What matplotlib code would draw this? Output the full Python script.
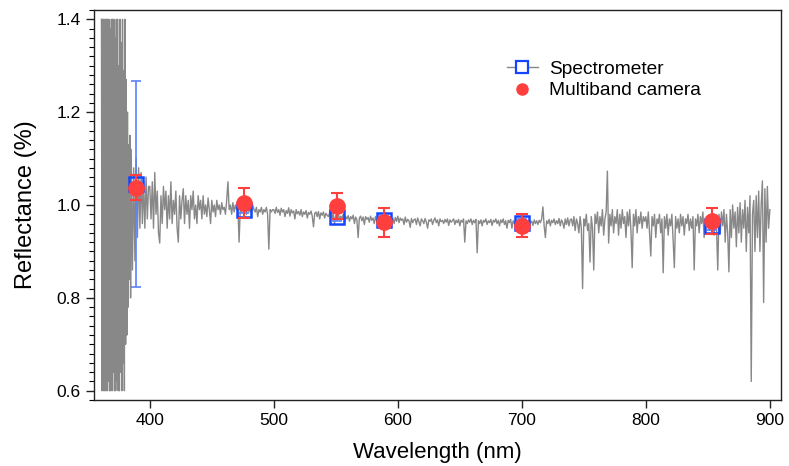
import numpy as np
import matplotlib
matplotlib.use("Agg")
import matplotlib.pyplot as plt
from matplotlib.lines import Line2D
from matplotlib.ticker import MultipleLocator, FormatStrFormatter

plt.rcParams['font.family'] = ['Liberation Sans', 'DejaVu Sans']

# ---- Spectrum ----
# UV edge, 0.5 nm step, 361 - 384.5 nm
wl_a = np.arange(361, 385, 0.5)
refl_a = [1.4, 0.6, 1.4, 0.6, 1.4, 0.6, 1.4, 0.6, 1.4, 0.6,
          1.4, 0.62, 1.4, 0.6, 1.38, 0.6, 1.4, 0.6, 1.4, 0.64,
          1.4, 0.6, 1.36, 0.6, 1.4, 0.62, 1.4, 0.6, 1.3, 0.6,
          1.4, 0.64, 1.35, 0.6, 1.4, 0.66, 1.29, 0.6, 1.4, 0.7,
          1.27, 0.72, 1.2, 0.78, 1.13, 0.84, 1.15, 0.8]

# 385 - 499 nm, 1 nm step
wl_b = np.arange(385, 500, 1)
refl_b = [1.12, 0.86, 1.08, 0.88, 1.1, 0.93, 1.08, 0.95, 1.07, 0.96,
          1.05, 0.95, 1.06, 0.97, 1.04,                                   # 385-399
          1.04, 0.97, 1.05, 0.95, 1.07, 0.98, 1.03, 0.94, 0.918, 1.02,    # 400-409
          0.96, 1.04, 0.99, 1.03, 0.95, 1.02, 0.97, 1.05, 0.96, 1.01,     # 410-419
          0.98, 1.03, 0.95, 0.92, 1.02, 0.97, 1.01, 1.035, 0.96, 1.02,    # 420-429
          0.98, 1.01, 0.95, 1.02, 0.99, 1.03, 0.97, 1.0, 0.96, 1.02,      # 430-439
          0.99, 1.01, 0.97, 1.02, 0.98, 1.0, 0.975, 1.015, 0.99, 0.96,    # 440-449
          1.01, 0.985, 1.0, 0.975, 1.01, 0.99, 1.0, 0.98, 1.005, 0.99,    # 450-459
          0.995, 0.98, 1.01, 1.05, 0.99, 1.0, 0.98, 1.005, 0.985, 1.0,    # 460-469
          0.99, 1.0, 0.92, 0.995, 0.985, 1.0, 0.99, 0.995, 0.98, 1.0,     # 470-479
          0.985, 0.995, 0.98, 1.0, 0.99, 0.985, 0.995, 0.975, 0.99, 0.985,  # 480-489
          0.995, 0.98, 0.99, 0.985, 0.995, 0.98, 0.905, 0.99, 0.985, 0.99]  # 490-499

# 500 - 739 nm, 1 nm step
wl_c = np.arange(500, 740, 1)
refl_c = [
    0.99, 0.982, 0.995, 0.984, 0.99, 0.978, 0.993, 0.985, 0.99, 0.975,     # 500
    0.988, 0.982, 0.994, 0.976, 0.99, 0.983, 0.987, 0.97, 0.99, 0.981,     # 510
    0.986, 0.978, 0.99, 0.975, 0.985, 0.98, 0.988, 0.972, 0.984, 0.98,     # 520
    0.987, 0.976, 0.953, 0.982, 0.985, 0.975, 0.986, 0.97, 0.983, 0.978,   # 530
    0.985, 0.972, 0.982, 0.978, 0.975, 0.983, 1.0, 0.968, 0.98, 0.96,      # 540
    0.978, 0.97, 0.982, 0.968, 0.976, 0.972, 0.98, 0.962, 0.975, 0.97,     # 550
    0.977, 0.965, 0.975, 0.97, 0.978, 0.96, 0.974, 0.968, 0.93, 0.972,     # 560
    0.976, 0.966, 0.974, 0.958, 0.975, 0.969, 0.973, 0.963, 0.976, 0.967,  # 570
    0.972, 0.96, 0.975, 0.966, 0.97, 0.955, 0.973, 0.968, 0.971, 0.962,    # 580
    0.974, 0.967, 0.97, 0.958, 0.975, 0.966, 0.972, 0.96, 0.973, 0.965,    # 590
    0.976, 0.962, 0.972, 0.967, 0.97, 0.958, 0.974, 0.963, 0.969, 0.966,   # 600
    0.952, 0.971, 0.962, 0.968, 0.97, 0.958, 0.972, 0.964, 0.955, 0.97,    # 610
    0.966, 0.96, 0.971, 0.963, 0.95, 0.968, 0.965, 0.97, 0.958, 0.967,     # 620
    0.972, 0.962, 0.968, 0.955, 0.97, 0.964, 0.967, 0.96, 0.969, 0.963,    # 630
    0.97, 0.956, 0.968, 0.963, 0.966, 0.97, 0.958, 0.967, 0.962, 0.969,    # 640
    0.955, 0.967, 0.963, 0.97, 0.92, 0.966, 0.96, 0.968, 0.963, 0.97,      # 650
    0.958, 0.967, 0.962, 0.969, 0.897, 0.966, 0.96, 0.968, 0.955, 0.967,   # 660
    0.963, 0.97, 0.958, 0.966, 0.962, 0.969, 0.956, 0.967, 0.963, 0.97,    # 670
    0.96, 0.967, 0.955, 0.968, 0.962, 0.97, 0.958, 0.966, 0.95, 0.967,     # 680
    0.962, 0.969, 0.95, 0.966, 0.96, 0.968, 0.945, 0.965, 0.962, 0.968,    # 690
    0.963, 0.957, 0.968, 0.961, 0.966, 0.958, 0.967, 0.962, 0.965, 0.956,  # 700
    0.968, 0.96, 0.966, 0.958, 0.967, 0.962, 0.97, 0.996, 0.955, 0.93,     # 710
    0.966, 0.96, 0.969, 0.955, 0.967, 0.962, 0.97, 0.958, 0.966, 0.96,     # 720
    0.971, 0.955, 0.968, 0.962, 0.95, 0.97, 0.958, 0.972, 0.955, 0.968,    # 730
]

# 740 - 900 nm, 1 nm step
wl_d = np.arange(740, 901, 1)
refl_d = [
    0.97, 0.955, 0.975, 0.945, 0.97, 0.96, 0.94, 0.975, 0.95, 0.82,    # 740-749
    0.97, 0.955, 0.98, 0.945, 0.96, 0.877, 0.975, 0.95, 0.86, 0.98,    # 750-759
    0.96, 0.985, 0.94, 0.975, 0.955, 0.99, 0.935, 0.97, 0.985, 1.073,  # 760-769
    0.918, 0.98, 0.955, 0.99, 0.94, 0.975, 0.96, 0.99, 0.935, 0.98,    # 770-779
    0.95, 0.99, 0.96, 0.975, 0.93, 0.985, 0.955, 0.99, 0.945, 0.865,   # 780-789
    0.98, 0.955, 0.99, 0.94, 0.975, 0.96, 0.985, 0.95, 0.975, 0.965,   # 790-799
    0.975, 0.95, 0.985, 0.94, 0.89, 0.975, 0.955, 0.98, 0.93, 0.97,    # 800-809
    0.96, 0.98, 0.94, 0.97, 0.854, 0.975, 0.95, 0.98, 0.935, 0.97,     # 810-819
    0.955, 0.98, 0.925, 0.865, 0.975, 0.95, 0.97, 0.94, 0.98, 0.955,   # 820-829
    0.975, 0.935, 0.97, 0.96, 0.98, 0.945, 0.97, 0.95, 0.975, 0.86,    # 830-839
    0.97, 0.955, 0.98, 0.94, 0.975, 0.96, 0.985, 0.93, 0.97, 0.955,    # 840-849
    0.975, 0.945, 0.97, 0.96, 0.98, 0.935, 0.975, 0.95, 0.86, 0.98,    # 850-859
    0.94, 0.985, 0.955, 0.99, 0.92, 0.98, 0.94, 0.856, 0.99, 0.93,     # 860-869
    1.0, 0.95, 0.985, 0.91, 0.995, 0.94, 1.005, 0.92, 0.99, 0.95,      # 870-879
    1.01, 0.9, 0.995, 0.94, 1.02, 0.62, 0.98, 1.01, 0.9, 1.02,         # 880-889
    0.93, 1.03, 0.9, 1.0, 1.052, 0.79, 1.035, 0.92, 1.04, 0.95,        # 890-899
    0.99,                                                              # 900
]

# ---- Spectrometer (blue squares) ----
spec_wl = [389, 476, 551, 589, 700, 853]
spec_refl = [1.045, 0.99, 0.974, 0.968, 0.962, 0.955]
spec_err = [0.222, 0.008, 0.008, 0.008, 0.008, 0.008]

# ---- Multiband camera (red circles) ----
cam_wl = [389, 476, 551, 589, 700, 853]
cam_refl = [1.037, 1.004, 0.998, 0.963, 0.955, 0.966]
cam_err = [0.027, 0.033, 0.028, 0.031, 0.025, 0.028]

gray = '#888888'
blue = '#1446ff'
blue_err = '#5a80ff'
red = '#ff3e3e'

fig = plt.figure(figsize=(7.89, 4.66), dpi=100)
ax = fig.add_axes([94/789, 1-400/466, (781-94)/789, (400-10)/466])

wl = np.concatenate([wl_a, wl_b, wl_c, wl_d])
refl = np.concatenate([refl_a, refl_b, refl_c, refl_d])
ax.plot(wl, refl, color=gray, lw=1.0, zorder=1)

ax.errorbar(spec_wl, spec_refl, yerr=spec_err, fmt='none', ecolor=blue_err,
            elinewidth=1.2, capsize=3.5, capthick=1.2, zorder=2)
ax.plot(spec_wl, spec_refl, ls='none', marker='s', ms=10, mfc='none',
        mec=blue, mew=1.8, zorder=3)

ax.errorbar(cam_wl, cam_refl, yerr=cam_err, fmt='none', ecolor=red,
            elinewidth=1.5, capsize=4, capthick=1.5, zorder=4)
ax.plot(cam_wl, cam_refl, ls='none', marker='o', ms=11, color=red,
        mec=red, zorder=5)

ax.set_xlim(355, 909)
ax.set_ylim(0.58, 1.42)
ax.yaxis.set_major_locator(MultipleLocator(0.2))
ax.yaxis.set_minor_locator(MultipleLocator(0.02))
ax.xaxis.set_major_locator(MultipleLocator(100))
ax.yaxis.set_major_formatter(FormatStrFormatter('%.1f'))
ax.tick_params(axis='both', which='major', direction='out', length=6,
               width=1, labelsize=12.5, colors='#222222', labelcolor='black')
ax.tick_params(axis='y', which='minor', direction='out', length=3.5, width=0.8)
for s in ax.spines.values():
    s.set_linewidth(1.0)
    s.set_color('#222222')

ax.set_xlabel('Wavelength (nm)', fontsize=16, labelpad=10)
ax.set_ylabel('Reflectance (%)', fontsize=17, labelpad=14)

h1 = Line2D([], [], color=gray, lw=1, marker='s', ms=8, mfc='white',
            mec=blue, mew=1.6)
h2 = Line2D([], [], ls='none', marker='o', ms=8, color=red)
ax.legend([h1, h2], ['Spectrometer', 'Multiband camera'], loc='upper left',
          bbox_to_anchor=(0.59, 0.89), frameon=False, fontsize=13.8,
          handlelength=1.6, handletextpad=0.6, labelspacing=0.2,
          borderaxespad=0)

fig.savefig('out.png', dpi=100)
